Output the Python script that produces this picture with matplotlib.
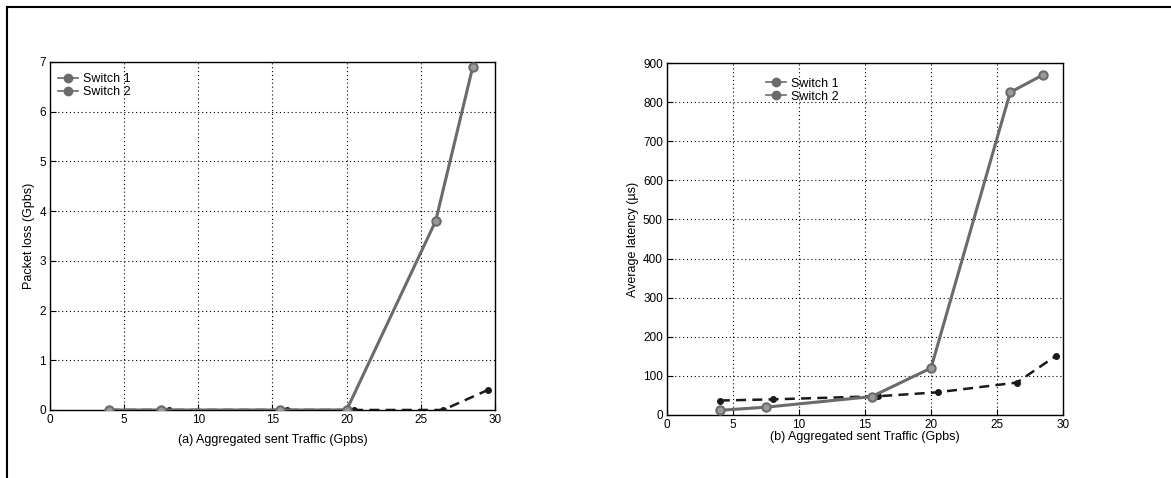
import matplotlib.pyplot as plt
from matplotlib.lines import Line2D

plt.rcParams['font.family'] = ['Liberation Sans', 'DejaVu Sans']

# traffic values (Gbps)
x_sw1 = [4, 7.5, 15.5, 20, 26, 28.5]
x_sw2 = [4, 8, 16, 20.5, 26.5, 29.5]

# (a) packet loss (Gbps)
loss_sw1 = [0, 0, 0, 0, 3.8, 6.9]
loss_sw2 = [0, 0, 0, 0, 0, 0.4]

# (b) average latency (us)
lat_sw1 = [12, 20, 47, 120, 825, 870]
lat_sw2 = [37, 40, 48, 58, 83, 152]

gray = '#6b6b6b'


def draw(ax, y1, y2, ylim, yticks, ylabel, xlabel, leg_anchor, xpad):
    ax.plot(x_sw2, y2, color='#1a1a1a', ls=(0, (4, 2.5)), lw=1.8,
            marker='o', ms=4, mfc='#1a1a1a', mec='#1a1a1a', zorder=3)
    ax.plot(x_sw1, y1, color=gray, lw=2.2, marker='o', ms=6,
            mfc='#9a9a9a', mec=gray, mew=1.5, zorder=4)
    ax.set_xlim(0, 30)
    ax.set_ylim(*ylim)
    ax.set_xticks(range(0, 31, 5))
    ax.set_yticks(yticks)
    ax.grid(True, color='black', ls=(0, (1, 2.5)), lw=0.8)
    ax.tick_params(direction='in', labelsize=8.5, length=4, pad=3)
    ax.set_xlabel(xlabel, fontsize=9, labelpad=xpad)
    ax.set_ylabel(ylabel, fontsize=9, labelpad=3)
    for s in ax.spines.values():
        s.set_linewidth(1.0)
    handles = [Line2D([], [], color=gray, lw=1.2, marker='o', ms=6,
                      mfc=gray, mec=gray) for _ in range(2)]
    ax.legend(handles, ['Switch 1', 'Switch 2'], loc='upper left',
              bbox_to_anchor=leg_anchor, frameon=False, fontsize=9,
              handlelength=1.6, handletextpad=0.4, labelspacing=0.1,
              borderaxespad=0.2)


fig = plt.figure(figsize=(11.71, 4.78), dpi=100)

ax1 = fig.add_axes([0.0427, 0.1423, 0.380, 0.728])
draw(ax1, loss_sw1, loss_sw2, (0, 7), range(0, 8),
     'Packet loss (Gpbs)', '(a) Aggregated sent Traffic (Gpbs)',
     (0.0, 0.99), 6)

ax2 = fig.add_axes([0.5696, 0.1318, 0.3382, 0.7364])
draw(ax2, lat_sw1, lat_sw2, (0, 900), range(0, 901, 100),
     'Average latency (\u00b5s)', '(b) Aggregated sent Traffic (Gpbs)',
     (0.23, 0.98), 0)

# outer frame (left and top edges)
fig.add_artist(Line2D([0.006, 0.006], [0.0, 0.986], color='black', lw=1.5))
fig.add_artist(Line2D([0.006, 1.0], [0.986, 0.986], color='black', lw=1.5))

fig.savefig('out.png', dpi=100)
